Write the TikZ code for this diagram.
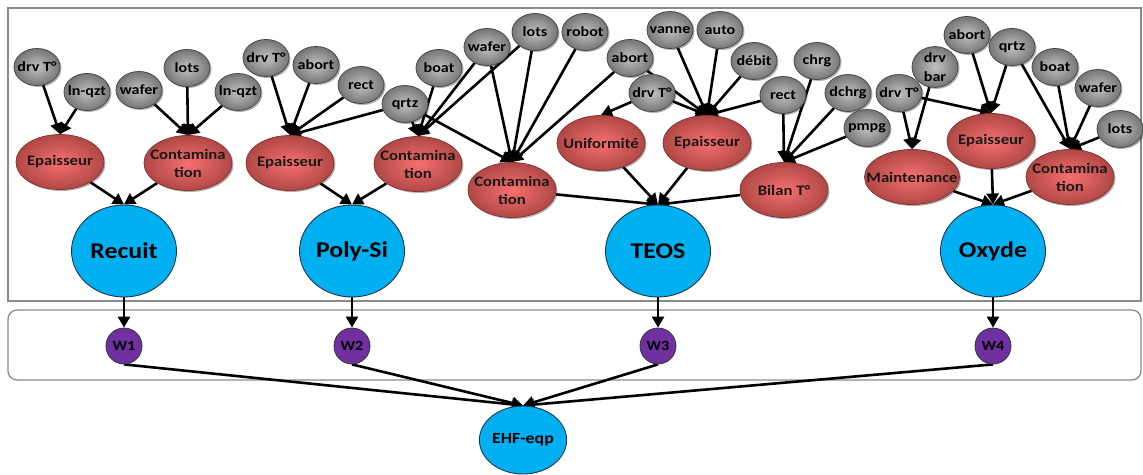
\documentclass[tikz,border=0pt]{standalone}
\usepackage{fontspec}
\setmainfont{Carlito}[FakeStretch=1.15]
\usetikzlibrary{arrows.meta,shapes.geometric,shadows,backgrounds}
\newcommand{\zt}[1]{\makebox[0pt]{#1}}
\definecolor{grin}{HTML}{C2C2C2}
\definecolor{grout}{HTML}{767676}
\definecolor{grbd}{HTML}{4A4A4A}
\definecolor{rdin}{HTML}{F77070}
\definecolor{rdout}{HTML}{B04845}
\definecolor{rdbd}{HTML}{8A3533}
\definecolor{blu}{HTML}{00B0F0}
\definecolor{blubd}{HTML}{1F3550}
\definecolor{purp}{HTML}{7030A0}
\definecolor{frame}{HTML}{8A8A8A}
\begin{document}
\begin{tikzpicture}[x=1pt,y=-1pt,
  shad/.style={drop shadow={shadow xshift=1.5pt,shadow yshift=-1.5pt,opacity=0.3,fill=black}},
  gnode/.style={ellipse,draw=grbd,line width=0.8pt,inner color=grin,outer color=grout,
    minimum width=46pt,minimum height=37pt,inner sep=0pt,align=center,
    font=\fontsize{14}{19}\selectfont\bfseries,text=black,shad},
  rnode/.style={ellipse,draw=rdbd,line width=0.8pt,inner color=rdin,outer color=rdout,
    minimum width=88pt,minimum height=55pt,inner sep=0pt,align=center,
    font=\fontsize{14.5}{18}\selectfont\bfseries,text=black!90,shad},
  bnode/.style={ellipse,draw=blubd,line width=0.9pt,fill=blu,
    minimum width=105pt,minimum height=92pt,inner sep=0pt,
    font=\fontsize{22.5}{24}\selectfont\bfseries,text=black},
  wnode/.style={circle,draw=black!80,line width=0.8pt,fill=purp,
    minimum size=36pt,inner sep=0pt,font=\fontsize{14}{15}\selectfont\bfseries,text=black},
  enode/.style={ellipse,draw=blubd,line width=0.9pt,fill=blu,
    minimum width=70pt,minimum height=68pt,inner sep=0pt,
    font=\fontsize{15.5}{17}\selectfont\bfseries,text=black},
  arr/.style={line width=2.6pt,-{Triangle[length=11pt,width=12pt]}},
  frm/.style={draw=frame,line width=1.3pt}
]
\useasboundingbox (0,0) rectangle (1143,474);

% ---------- group 1 : Recuit
\node[gnode] (g1drv)  at (37,67)  {\zt{drv T°}};
\node[gnode] (g1ln1)  at (87,92)  {\zt{ln-qzt}};
\node[gnode] (g1waf)  at (139,90) {\zt{wafer}};
\node[gnode] (g1lots) at (187,68) {\zt{lots}};
\node[gnode] (g1ln2)  at (238,92) {\zt{ln-qzt}};
\node[rnode] (r1ep) at (60,162)  {\zt{Epaisseur}};
\node[rnode] (r1co) at (188,163) {\zt{Contamina}\\\zt{tion}};
\node[bnode] (b1) at (124,251) {Recuit};

% ---------- group 2 : Poly-Si
\node[gnode] (g2drv)  at (266,58)  {\zt{drv T°}};
\node[gnode] (g2ab)   at (316,65)  {\zt{abort}};
\node[gnode] (g2rect) at (361,85)  {\zt{rect}};
\node[gnode] (g2qrtz) at (405,104) {\zt{qrtz}};
\node[gnode] (g2boat) at (439,68)  {\zt{boat}};
\node[gnode] (g2waf)  at (487,47)  {\zt{wafer}};
\node[gnode] (g2lots) at (535,32)  {\zt{lots}};
\node[gnode] (g2rob)  at (585,32)  {\zt{robot}};
\node[rnode] (r2ep) at (290,163) {\zt{Epaisseur}};
\node[rnode] (r2co) at (418,164) {\zt{Contamina}\\\zt{tion}};
\node[bnode] (b2) at (352,251) {Poly-Si};

% ---------- group 3 : TEOS
\node[gnode] (g3ab)    at (630,58)  {\zt{abort}};
\node[gnode] (g3drv)   at (652,93)  {\zt{drv T°}};
\node[gnode] (g3van)   at (670,30)  {\zt{vanne}};
\node[gnode] (g3auto)  at (720,30)  {\zt{auto}};
\node[gnode] (g3deb)   at (754,61)  {\zt{débit}};
\node[gnode] (g3rect)  at (783,95)  {\zt{rect}};
\node[gnode] (g3chrg)  at (817,61)  {\zt{chrg}};
\node[gnode] (g3dchrg) at (848,93)  {\zt{dchrg}};
\node[gnode] (g3pmpg)  at (867,128) {\zt{pmpg}};
\node[rnode] (r3co)  at (512,190) {\zt{Contamina}\\\zt{tion}};
\node[rnode] (r3uni) at (601,143) {\zt{Uniformité}};
\node[rnode] (r3ep)  at (707,143) {\zt{Epaisseur}};
\node[rnode] (r3bil) at (784,190) {\zt{Bilan T°}};
\node[bnode] (b3) at (658,251) {TEOS};

% ---------- group 4 : Oxyde
\node[gnode] (g4drv)  at (899,93)   {\zt{drv T°}};
\node[gnode] (g4bar)  at (935,67)   {\zt{drv}\\\zt{bar}};
\node[gnode] (g4ab)   at (967,35)   {\zt{abort}};
\node[gnode] (g4qrtz) at (1012,47)  {\zt{qrtz}};
\node[gnode] (g4boat) at (1055,67)  {\zt{boat}};
\node[gnode] (g4waf)  at (1098,88)  {\zt{wafer}};
\node[gnode] (g4lots) at (1120,129) {\zt{lots}};
\node[rnode,minimum width=95pt] (r4mt) at (912,177) {\zt{Maintenance}};
\node[rnode] (r4ep) at (991,141)  {\zt{Epaisseur}};
\node[rnode] (r4co) at (1070,177) {\zt{Contamina}\\\zt{tion}};
\node[bnode] (b4) at (993,251) {Oxyde};

% ---------- weights and result
\node[wnode] (w1) at (124,346) {W1};
\node[wnode] (w2) at (352,346) {W2};
\node[wnode] (w3) at (658,346) {W3};
\node[wnode] (w4) at (993,346) {W4};
\node[enode] (ehf) at (523,440) {EHF-eqp};

\begin{scope}[on background layer]
  \draw[frm] (8,8) rectangle (1141,301);
  \draw[frm,rounded corners=9pt] (8,310) rectangle (1141,380);

  % group 1
  \draw[arr] (g1drv) -- (r1ep.north);
  \draw[arr] (g1ln1) -- (r1ep.north);
  \draw[arr] (g1waf) -- (r1co.north);
  \draw[arr] (g1lots) -- (r1co.north);
  \draw[arr] (g1ln2) -- (r1co.north);
  \draw[arr] (r1ep) -- (b1.north);
  \draw[arr] (r1co) -- (b1.north);

  % group 2
  \draw[arr] (g2drv) -- (r2ep.north);
  \draw[arr] (g2ab) -- (r2ep.north);
  \draw[arr] (g2rect) -- (r2ep.north);
  \draw[arr] (g2qrtz) -- (r2ep.north);
  \draw[arr] (g2qrtz) -- (r2co.north);
  \draw[arr] (g2boat) -- (r2co.north);
  \draw[arr] (g2waf) -- (r2co.north);
  \draw[arr] (g2lots) -- (r2co.north);
  \draw[arr] (g2qrtz) -- (r3co.north);
  \draw[arr] (g2waf) -- (r3co.north);
  \draw[arr] (g2lots) -- (r3co.north);
  \draw[arr] (g2rob) -- (r3co.north);
  \draw[arr] (g3ab) -- (r3co.north);
  \draw[arr] (r2ep) -- (b2.north);
  \draw[arr] (r2co) -- (b2.north);

  % group 3
  \draw[arr] (g3drv) -- (r3uni.north);
  \draw[arr] (g3ab) -- (r3ep.north);
  \draw[arr] (g3drv) -- (r3ep.north);
  \draw[arr] (g3van) -- (r3ep.north);
  \draw[arr] (g3auto) -- (r3ep.north);
  \draw[arr] (g3deb) -- (r3ep.north);
  \draw[arr] (g3rect) -- (r3ep.north);
  \draw[arr] (g3rect) -- (r3bil.north);
  \draw[arr] (g3chrg) -- (r3bil.north);
  \draw[arr] (g3dchrg) -- (r3bil.north);
  \draw[arr] (g3pmpg) -- (r3bil.north);
  \draw[arr] (r3co) -- (b3.north);
  \draw[arr] (r3uni) -- (b3.north);
  \draw[arr] (r3ep) -- (b3.north);
  \draw[arr] (r3bil) -- (b3.north);

  % group 4
  \draw[arr] (g4drv) -- (r4mt.north);
  \draw[arr] (g4bar) -- (r4mt.north);
  \draw[arr] (g4drv) -- (r4ep.north);
  \draw[arr] (g4ab) -- (r4ep.north);
  \draw[arr] (g4qrtz) -- (r4ep.north);
  \draw[arr] (g4qrtz) -- (r4co.north);
  \draw[arr] (g4boat) -- (r4co.north);
  \draw[arr] (g4waf) -- (r4co.north);
  \draw[arr] (g4lots) -- (r4co.north);
  \draw[arr] (r4mt) -- (b4.north);
  \draw[arr] (r4ep) -- (b4.north);
  \draw[arr] (r4co) -- (b4.north);

  % weights
  \draw[arr] (b1) -- (w1);
  \draw[arr] (b2) -- (w2);
  \draw[arr] (b3) -- (w3);
  \draw[arr] (b4) -- (w4);
  \draw[arr] (w1.south) -- (ehf.north);
  \draw[arr] (w2.south) -- (ehf.north);
  \draw[arr] (w3.south) -- (ehf.north);
  \draw[arr] (w4.south) -- (ehf.north);
\end{scope}
\end{tikzpicture}
\end{document}
